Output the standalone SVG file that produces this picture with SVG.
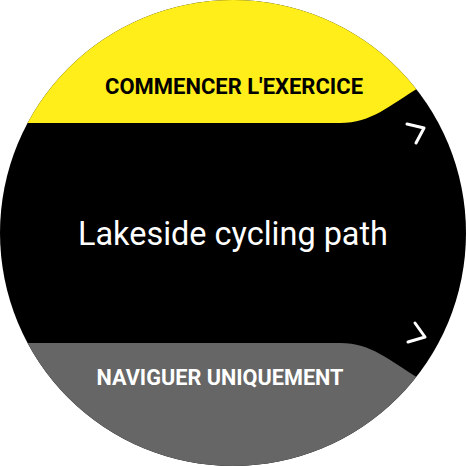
<svg xmlns="http://www.w3.org/2000/svg" width="466" height="466" viewBox="0 0 466 466">
  <defs>
    <clipPath id="face"><circle cx="233" cy="233" r="233"/></clipPath>
    <style>
      .btn { font-family: Roboto, "Liberation Sans", sans-serif; font-weight: 700; font-size: 22px; text-anchor: middle; }
      .title { font-family: Roboto, "Liberation Sans", sans-serif; font-weight: 400; font-size: 34px; text-anchor: middle; fill: #ffffff; }
      .chev { fill: none; stroke: #ffffff; stroke-width: 3; stroke-linecap: round; stroke-linejoin: round; }
    </style>
  </defs>
  <rect width="466" height="466" fill="#ffffff"/>
  <g clip-path="url(#face)">
    <rect width="466" height="466" fill="#000000"/>
    <path id="top-band" d="M0 0 H466 V70 L420 87 C388 106 372 123 340 123 H0 Z" fill="#FFEE1A"/>
    <path id="bottom-band" d="M0 466 H466 V396 L420 379 C388 360 372 343 340 343 H0 Z" fill="#666666"/>
  </g>
  <g id="start">
    <text class="btn" x="234" y="94" fill="#000000" textLength="258" lengthAdjust="spacingAndGlyphs">COMMENCER L'EXERCICE</text>
  </g>
  <g id="route">
    <text class="title" x="233" y="245" textLength="310" lengthAdjust="spacingAndGlyphs">Lakeside cycling path</text>
  </g>
  <g id="navigate">
    <text class="btn" x="220" y="385" fill="#ffffff" textLength="247" lengthAdjust="spacingAndGlyphs">NAVIGUER UNIQUEMENT</text>
  </g>
  <g id="chevrons">
    <polyline class="chev" points="407,124 424,128 416,143"/>
    <polyline class="chev" points="415,323 425,337 408,342"/>
  </g>
</svg>
